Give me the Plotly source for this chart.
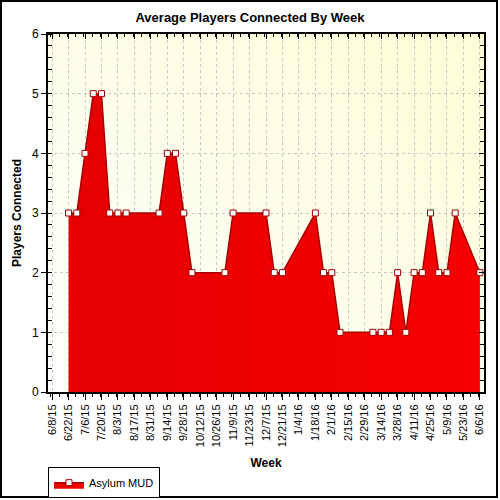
import base64
import plotly.graph_objects as go

# ── data ──────────────────────────────────────────────────────────────────────

WEEKS = [
    "2015-06-22", "2015-06-29", "2015-07-06", "2015-07-13", "2015-07-20",
    "2015-07-27", "2015-08-03", "2015-08-10", "2015-09-07", "2015-09-14",
    "2015-09-21", "2015-09-28", "2015-10-05", "2015-11-02", "2015-11-09",
    "2015-12-07", "2015-12-14", "2015-12-21", "2016-01-18", "2016-01-25",
    "2016-02-01", "2016-02-08", "2016-03-07", "2016-03-14", "2016-03-21",
    "2016-03-28", "2016-04-04", "2016-04-11", "2016-04-18", "2016-04-25",
    "2016-05-02", "2016-05-09", "2016-05-16", "2016-06-06",
]
PLAYERS = [
    3, 3, 4, 5, 5,
    3, 3, 3, 3, 4,
    4, 3, 2, 2, 3,
    3, 2, 2, 3, 2,
    2, 1, 1, 1, 1,
    2, 1, 2, 2, 3,
    2, 2, 3, 2,
]

SERIES_NAME = "Asylum MUD"
X_RANGE = ["2015-06-04 12:00", "2016-06-09 12:00"]
FIRST_TICK = "2015-06-08"

# ── style ─────────────────────────────────────────────────────────────────────

FONT = "Liberation Sans, Arial, sans-serif"
WEEK_MS = 7 * 86400000

bg_svg = (
    '<svg xmlns="http://www.w3.org/2000/svg" width="100" height="100" preserveAspectRatio="none">'
    '<defs><linearGradient id="g" x1="0" y1="1" x2="1" y2="0">'
    '<stop offset="0" stop-color="#ffffff"/><stop offset="1" stop-color="#fdfdd6"/>'
    '</linearGradient></defs><rect width="100" height="100" fill="url(#g)"/></svg>'
)
bg_uri = "data:image/svg+xml;base64," + base64.b64encode(bg_svg.encode()).decode()

fig = go.Figure()
fig.add_trace(go.Scatter(
    x=WEEKS,
    y=PLAYERS,
    name=SERIES_NAME,
    mode="lines+markers",
    fill="tozeroy",
    fillgradient=dict(type="horizontal", colorscale=[[0, "#e40000"], [1, "#f60000"]]),
    line=dict(color="#a80000", width=1.5),
    marker=dict(symbol="square", size=6, color="white",
                line=dict(color="#a00000", width=1)),
))
# invisible copy so the mirrored top/right axes get drawn
fig.add_trace(go.Scatter(
    x=WEEKS, y=PLAYERS, xaxis="x2", yaxis="y2", mode="lines",
    line=dict(width=0), opacity=0, showlegend=False, hoverinfo="skip",
))

fig.update_layout(
    width=500,
    height=500,
    margin=dict(l=48, r=16, t=34, b=108, autoexpand=False),
    paper_bgcolor="white",
    plot_bgcolor="rgba(0,0,0,0)",
    font=dict(family=FONT, size=11, color="black"),
    title=dict(text="<b>Average Players Connected By Week</b>", x=0.5, xanchor="center",
               y=0.966, yanchor="middle", font=dict(size=13)),
    showlegend=True,
    legend=dict(x=0, y=-0.21, xanchor="left", yanchor="top", orientation="h",
                bordercolor="black", borderwidth=1, bgcolor="white",
                font=dict(size=11), itemwidth=30, tracegroupgap=0),
    images=[dict(source=bg_uri, xref="paper", yref="paper", x=0, y=1,
                 sizex=1, sizey=1, sizing="stretch", layer="below")],
    xaxis=dict(
        type="date", range=X_RANGE, tick0=FIRST_TICK, dtick=2 * WEEK_MS,
        tickformat="%-m/%-d/%y", tickangle=-90, tickfont=dict(size=11),
        ticks="outside", ticklen=6, tickcolor="black", automargin=False,
        minor=dict(dtick=WEEK_MS, ticks="outside", ticklen=3, tickcolor="black", showgrid=False),
        showline=True, linecolor="black", linewidth=2, mirror=True,
        showgrid=True, gridcolor="#c8c8c8", griddash="dot", gridwidth=1,
        zeroline=False,
        title=dict(text="<b>Week</b>", font=dict(size=12), standoff=12),
    ),
    yaxis=dict(
        range=[0, 6], dtick=1, tickfont=dict(size=12), automargin=False,
        ticks="outside", ticklen=5, tickcolor="black",
        minor=dict(dtick=0.2, ticks="inside", ticklen=4, tickcolor="black", showgrid=False),
        showline=True, linecolor="black", linewidth=2, mirror=True,
        showgrid=True, gridcolor="#c8c8c8", griddash="dot", gridwidth=1,
        zeroline=False,
        title=dict(text="<b>Players Connected</b>", font=dict(size=12), standoff=8),
    ),
    xaxis2=dict(
        type="date", overlaying="x", side="top", matches="x", tick0=FIRST_TICK,
        dtick=2 * WEEK_MS, ticks="inside", ticklen=5, tickcolor="black",
        minor=dict(dtick=WEEK_MS, ticks="inside", ticklen=3, tickcolor="black"),
        showticklabels=False, showgrid=False, zeroline=False, showline=False,
    ),
    yaxis2=dict(
        overlaying="y", side="right", matches="y", dtick=1, ticks="inside",
        ticklen=5, tickcolor="black",
        minor=dict(dtick=0.2, ticks="inside", ticklen=4, tickcolor="black"),
        showticklabels=False, showgrid=False, zeroline=False, showline=False,
    ),
    shapes=[dict(type="rect", xref="paper", yref="paper",
                 x0=-0.1078, x1=1.0298, y0=-0.2933, y1=1.0922,
                 line=dict(color="black", width=2), fillcolor="rgba(0,0,0,0)")],
)

# drop the default page margin so the 500x500 figure fills the window
fig.write_html("out.html", config={"displayModeBar": False},
               post_script="document.body.style.margin='0';")
